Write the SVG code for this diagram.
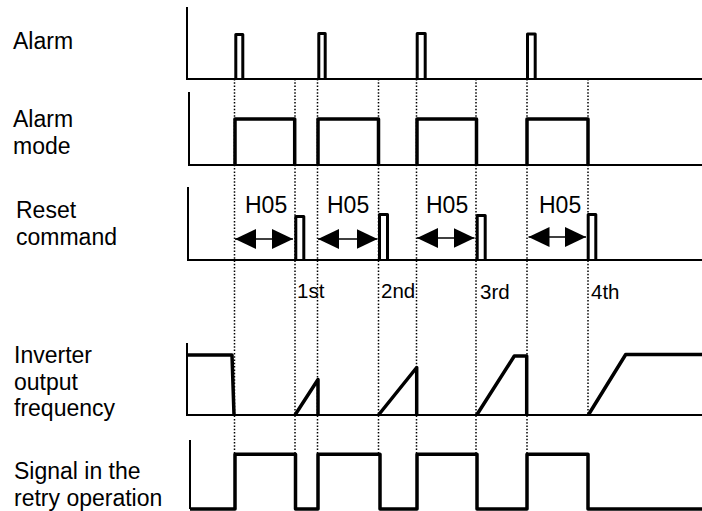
<svg xmlns="http://www.w3.org/2000/svg" width="702" height="511" viewBox="0 0 702 511">
<style>
.lbl{font-family:"Liberation Sans",Arial,sans-serif;font-size:23px;fill:#000}
.ord{font-family:"Liberation Sans",Arial,sans-serif;font-size:20.5px;fill:#000}
.axis{fill:none;stroke:#000;stroke-width:2}
.sig{fill:none;stroke:#000;stroke-width:3.5;stroke-linejoin:round}
.pulse{fill:none;stroke:#000;stroke-width:3;stroke-linejoin:round}
.dot{fill:none;stroke:#000;stroke-width:1.5;stroke-dasharray:1.5 1.8}
.arr{fill:none;stroke:#000;stroke-width:1.5;marker-start:url(#ah);marker-end:url(#ah)}
</style>
<defs>
<marker id="ah" markerUnits="userSpaceOnUse" markerWidth="21" markerHeight="20" refX="21" refY="10" orient="auto-start-reverse">
<path d="M0,0 L21,10 L0,20 Z" fill="#000"/>
</marker>
</defs>
<rect width="702" height="511" fill="#fff"/>

<g id="connectors">
<line class="dot" x1="234.5" y1="79" x2="234.5" y2="454"/>
<line class="dot" x1="295" y1="79" x2="295" y2="454"/>
<line class="dot" x1="317.5" y1="79" x2="317.5" y2="454"/>
<line class="dot" x1="378.5" y1="79" x2="378.5" y2="454"/>
<line class="dot" x1="416.5" y1="79" x2="416.5" y2="454"/>
<line class="dot" x1="476" y1="79" x2="476" y2="454"/>
<line class="dot" x1="527" y1="79" x2="527" y2="454"/>
<line class="dot" x1="588" y1="79" x2="588" y2="415"/>
<line class="arr" x1="235" y1="239" x2="293" y2="239"/>
<line class="arr" x1="318" y1="239" x2="377.5" y2="239"/>
<line class="arr" x1="417" y1="238" x2="474.5" y2="238"/>
<line class="arr" x1="528.5" y1="237" x2="586" y2="237"/>
</g>

<g id="alarm">
<text class="lbl" x="13" y="49">Alarm</text>
<polyline class="axis" points="187,7 187,79 702,79"/>
<polyline class="pulse" points="235.8,79 235.8,34.5 242.8,34.5 242.8,79"/>
<polyline class="pulse" points="318.8,79 318.8,33.5 325.2,33.5 325.2,79"/>
<polyline class="pulse" points="417.2,79 417.2,33.5 425.2,33.5 425.2,79"/>
<polyline class="pulse" points="527.5,79 527.5,34 535.2,34 535.2,79"/>
</g>

<g id="alarm-mode">
<text class="lbl" x="13" y="127">Alarm</text>
<text class="lbl" x="13" y="154">mode</text>
<polyline class="axis" points="189,92 189,165 702,165"/>
<polyline class="sig" points="235,165 235,119 294.7,119 294.7,165"/>
<polyline class="sig" points="318,165 318,119 378.5,119 378.5,165"/>
<polyline class="sig" points="417,165 417,119 476.5,119 476.5,165"/>
<polyline class="sig" points="527,165 527,119 588,119 588,165"/>
</g>

<g id="reset-command">
<text class="lbl" x="16" y="218">Reset</text>
<text class="lbl" x="16" y="245">command</text>
<polyline class="axis" points="188,187 188,260 702,260"/>
<polyline class="pulse" points="295.8,260 295.8,216.5 303.8,216.5 303.8,260"/>
<polyline class="pulse" points="379.5,260 379.5,214.5 387.5,214.5 387.5,260"/>
<polyline class="pulse" points="477.2,260 477.2,215.5 485.2,215.5 485.2,260"/>
<polyline class="pulse" points="588.2,260 588.2,214.5 595.8,214.5 595.8,260"/>
<text class="lbl" x="245" y="213">H05</text>
<text class="lbl" x="327" y="213">H05</text>
<text class="lbl" x="426" y="213">H05</text>
<text class="lbl" x="539" y="213">H05</text>
<text class="ord" x="297" y="298">1st</text>
<text class="ord" x="381" y="298">2nd</text>
<text class="ord" x="480" y="299">3rd</text>
<text class="ord" x="591" y="299">4th</text>
</g>

<g id="inverter-output-frequency">
<text class="lbl" x="14" y="363">Inverter</text>
<text class="lbl" x="14" y="390">output</text>
<text class="lbl" x="14" y="416">frequency</text>
<polyline class="axis" points="187,343 187,415 702,415"/>
<polyline class="sig" points="187,355 232,355 234,415"/>
<polyline class="sig" points="295,415 318,379.5 318,415"/>
<polyline class="sig" points="378.5,415 416.7,367.5 416.7,415"/>
<polyline class="sig" points="476.7,415 514.3,356 526.7,356 526.7,415"/>
<polyline class="sig" points="588.3,415 625.7,354.5 702,354.5"/>
</g>

<g id="signal-in-retry-operation">
<text class="lbl" x="14" y="479">Signal in the</text>
<text class="lbl" x="14" y="506">retry operation</text>
<line class="axis" x1="190" y1="440" x2="190" y2="509"/>
<polyline class="sig" points="190,509 235,509 235,454.3 295.5,454.3 295.5,509 318,509 318,454.3 380,454.3 380,509 417,509 417,454.3 477,454.3 477,509 527,509 527,454.3 588,454.3 588,509 702,509"/>
</g>
</svg>
